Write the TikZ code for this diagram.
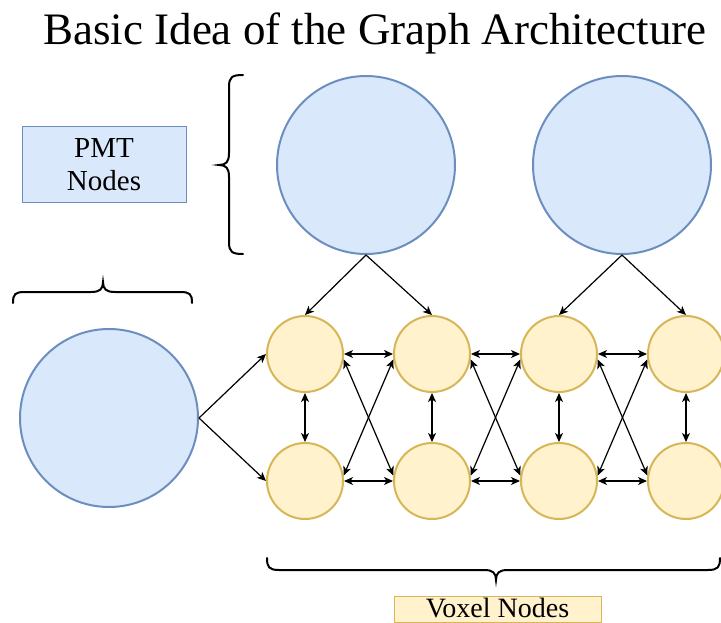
\documentclass[tikz,border=0pt]{standalone}
\usepackage{fontspec}
\setmainfont{Liberation Serif}
\usetikzlibrary{arrows.meta}
\definecolor{pmtfill}{HTML}{DAE8FC}
\definecolor{pmtline}{HTML}{6C8EBF}
\definecolor{voxfill}{HTML}{FFF2CC}
\definecolor{voxline}{HTML}{D6B656}
\tikzset{
  pmt/.style={circle, draw=pmtline, fill=pmtfill, line width=2pt, inner sep=0pt, minimum size=178pt},
  vox/.style={circle, draw=voxline, fill=voxfill, line width=2pt, inner sep=0pt, minimum size=76pt},
  tip/.tip={Stealth[length=9pt, width=8pt, inset=2.5pt]},
  link/.style={line width=1.2pt, -tip},
  dlink/.style={line width=1.2pt, tip-tip},
  bracepath/.style={line width=2pt, line cap=round},
  labelbox/.style={draw, line width=1pt, inner sep=0pt, font=\rmfamily\fontsize{29}{33}\selectfont, align=center}
}
\begin{document}
\begin{tikzpicture}[x=1pt, y=-1pt]
\useasboundingbox (0,0) rectangle (721,623);

% title
\node[anchor=base, font=\rmfamily\fontsize{45}{50}\selectfont, inner sep=0pt] (title) at (375,45) {Basic Idea of the Graph Architecture};

% legend boxes
\node[labelbox, draw=pmtline, fill=pmtfill, minimum width=164pt, minimum height=76pt] (pmtlabel) at (104,165) {PMT\\Nodes};
\node[labelbox, draw=voxline, fill=voxfill, minimum width=207pt, text height=21pt, text depth=5pt, font=\rmfamily\fontsize{28}{30}\selectfont] (voxlabel) at (497.5,609) {Voxel Nodes};

% PMT nodes
\node[pmt] (p1) at (366,165) {};
\node[pmt] (p2) at (622,165) {};
\node[pmt] (p0) at (109,418) {};

% voxel nodes: row r, column c
\foreach \c/\x in {1/305, 2/432, 3/559, 4/686} {
  \node[vox] (v1\c) at (\x,354) {};
  \node[vox] (v2\c) at (\x,481) {};
}

% PMT to voxel connections
\draw[link] (p1.south) -- (v11.north);
\draw[link] (p1.south) -- (v12.north);
\draw[link] (p2.south) -- (v13.north);
\draw[link] (p2.south) -- (v14.north);
\draw[link] (p0.east) -- (v11.west);
\draw[link] (p0.east) -- (v21.west);

% voxel to voxel connections
\foreach \c in {1,2,3,4} {
  \draw[dlink] (v1\c.south) -- (v2\c.north);
}
\foreach \a/\b in {1/2, 2/3, 3/4} {
  \draw[dlink] (v1\a.east) -- (v1\b.west);
  \draw[dlink] (v2\a.east) -- (v2\b.west);
  \draw[dlink] (v1\a.-8) -- (v2\b.172);
  \draw[dlink] (v2\a.8) -- (v1\b.188);
}

% braces
\draw[bracepath] (243,75) .. controls (232,75) and (229,77) .. (229,87) -- (229,153)
  .. controls (229,162) and (226,165) .. (219,165)
  .. controls (226,165) and (229,168) .. (229,177) -- (229,242)
  .. controls (229,252) and (232,254) .. (243,254);
\draw[bracepath] (13,303) .. controls (13,294) and (15,292) .. (25,292) -- (91,292)
  .. controls (100,292) and (103,289) .. (103,282)
  .. controls (103,289) and (106,292) .. (115,292) -- (180,292)
  .. controls (190,292) and (192,294) .. (192,303);
\draw[bracepath] (267,558) .. controls (267,567) and (269,570) .. (279,570) -- (484,570)
  .. controls (493,570) and (496,573) .. (496,580)
  .. controls (496,573) and (499,570) .. (508,570) -- (708,570)
  .. controls (718,570) and (720,567) .. (720,558);
\end{tikzpicture}
\end{document}
